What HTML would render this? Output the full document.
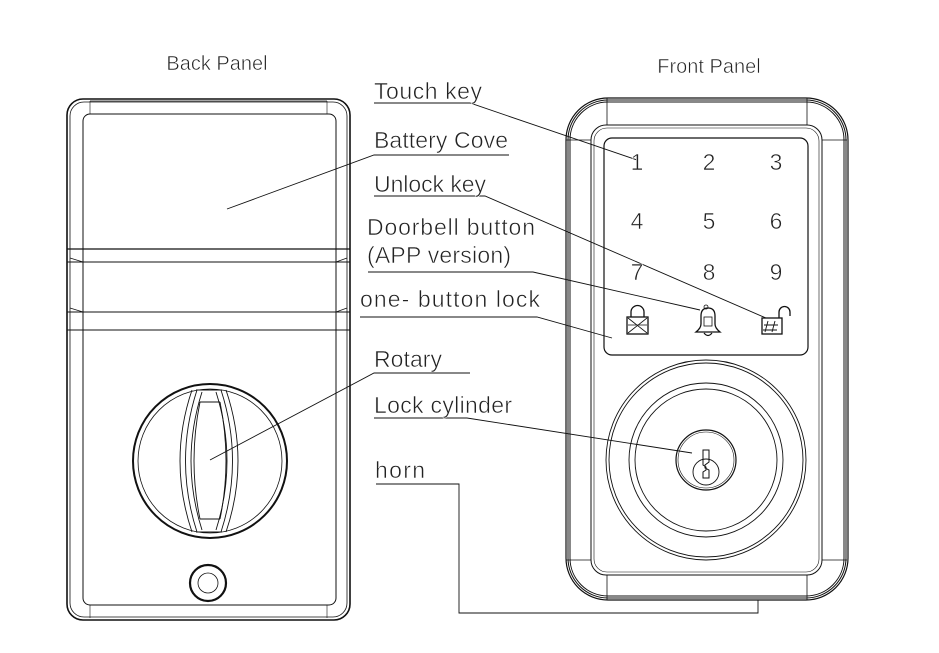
<!DOCTYPE html>
<html><head><meta charset="utf-8"><style>
html,body{margin:0;padding:0;background:#fff;}
svg{display:block;}
text{font-family:"Liberation Sans",sans-serif;fill:#222;}
.thin{stroke:#fff;stroke-width:0.55px;}
</style></head><body>
<svg width="939" height="653" viewBox="0 0 939 653" xmlns="http://www.w3.org/2000/svg">
<g fill="none" stroke="#111">
<!-- BACK PANEL -->
<rect x="67" y="99" width="283" height="521" rx="16" stroke-width="1.6"/>
<rect x="70" y="102" width="277" height="515" rx="14" stroke-width="0.8"/>
<rect x="83" y="114" width="253" height="491" rx="7" stroke-width="1"/>
<line x1="90" y1="101" x2="327" y2="101" stroke-width="0.8"/>
<line x1="90" y1="101" x2="90" y2="114" stroke-width="0.6"/>
<line x1="327" y1="101" x2="327" y2="114" stroke-width="0.6"/>
<line x1="90" y1="605" x2="90" y2="618" stroke-width="0.6"/>
<line x1="327" y1="605" x2="327" y2="618" stroke-width="0.6"/>
<line x1="67" y1="249" x2="350" y2="249" stroke-width="1.2"/>
<line x1="67" y1="262" x2="350" y2="262" stroke-width="1"/>
<line x1="67" y1="312" x2="350" y2="312" stroke-width="1"/>
<line x1="67" y1="330" x2="350" y2="330" stroke-width="1"/>
<path d="M70 258 L83 262 M347 258 L336 262 M70 308 L83 312 M347 308 L336 312" stroke-width="0.7"/>
<!-- knob -->
<circle cx="210" cy="461" r="77" stroke-width="2"/>
<circle cx="210" cy="461" r="72" stroke-width="0.8"/>
<path d="M192 390 Q168 461 192 532 M197 390 Q174 461 197 532 M202 392 Q180 461 202 530" stroke-width="0.9"/>
<path d="M226 390 Q250 461 226 532 M221 390 Q244 461 221 532 M216 392 Q238 461 216 530" stroke-width="0.9"/>
<path d="M196 390 h26 M200 402 h20 M196 532 h26 M200 519 h20" stroke-width="0.9"/>
<path d="M200 402 Q188 461 200 519 M220 402 Q232 461 220 519" stroke-width="0.9"/>
<circle cx="208" cy="583" r="18" stroke-width="2.2"/>
<circle cx="208" cy="583" r="10" stroke-width="0.8"/>

<!-- FRONT PANEL -->
<rect x="566" y="98" width="282" height="502" rx="42" stroke-width="1.2"/>
<rect x="568" y="100" width="278" height="498" rx="40" stroke-width="1"/>
<rect x="570" y="102" width="274" height="494" rx="38" stroke-width="1"/>
<rect x="591" y="125" width="231" height="450" rx="15" stroke-width="1"/>
<rect x="594" y="128" width="225" height="444" rx="13" stroke-width="0.6"/>
<line x1="607" y1="98" x2="607" y2="125" stroke-width="0.8"/>
<line x1="807" y1="98" x2="807" y2="125" stroke-width="0.8"/>
<line x1="607" y1="575" x2="607" y2="600" stroke-width="0.8"/>
<line x1="807" y1="575" x2="807" y2="600" stroke-width="0.8"/>
<line x1="822" y1="140" x2="847" y2="140" stroke-width="0.8"/>
<line x1="566" y1="140" x2="591" y2="140" stroke-width="0.8"/>
<line x1="566" y1="560" x2="591" y2="560" stroke-width="0.8"/>
<line x1="822" y1="560" x2="847" y2="560" stroke-width="0.8"/>
<!-- keypad -->
<rect x="604" y="138" width="204" height="217" rx="8" stroke-width="1.2"/>
<!-- lock icons -->
<rect x="627" y="317" width="21" height="17" stroke-width="1.3"/>
<path d="M631 317 v-5 a6.5 6.5 0 0 1 13 0 v5" stroke-width="1.3"/>
<path d="M628 318 l19 15 M647 318 l-19 15 M628 325 h19" stroke-width="0.8"/>
<path d="M701 316 q0 -8 7 -8 q7 0 7 8 v8 q0 4 5 8 h-24 q5 -4 5 -8z" stroke-width="1.3"/>
<rect x="704" y="317" width="8" height="9" stroke-width="0.8"/>
<path d="M704 333 q4 5 8 0" stroke-width="1.2"/>
<circle cx="706" cy="307" r="2" stroke-width="0.8"/>
<rect x="762" y="318" width="20" height="16" stroke-width="1.3"/>
<path d="M779 318 v-6 a5.5 5.5 0 0 1 11 0 v4" stroke-width="1.3"/>
<path d="M768 321 l-3 11 M775 321 l-3 11 M764 325 h14 M763 330 h14" stroke-width="0.9"/>
<!-- cylinder -->
<circle cx="706" cy="460" r="100" stroke-width="0.9"/>
<circle cx="706" cy="460" r="97" stroke-width="0.9"/>
<circle cx="706" cy="460" r="77" stroke-width="0.9"/>
<circle cx="706" cy="460" r="71" stroke-width="0.9"/>
<circle cx="706" cy="460" r="30" stroke-width="1.2"/>
<circle cx="706" cy="460" r="28" stroke-width="0.6"/>
<circle cx="706" cy="472" r="13" stroke-width="0.9"/>
<path d="M703 450 h6 v12 l-4 3 v3 l4 2 v8 h-6 v-6 l3 -2 v-3 l-3 -2z" stroke-width="1"/>

<!-- leader lines -->
<g stroke-width="0.9">
<polyline points="374,103 470,103 637,160"/>
<polyline points="509,155 374,155 227,209"/>
<polyline points="374,196 485,196 766,318"/>
<polyline points="368,272 533,272 700,310"/>
<polyline points="360,317 537,317 612,338"/>
<polyline points="470,373 374,373 210,460"/>
<polyline points="374,418 467,418 692,453"/>
<polyline points="376,484 459,484 459,613 758,613 758,600"/>
</g>
</g>
<!-- digits -->
<g font-size="23" style="font-family:'DejaVu Sans Mono','Liberation Mono',monospace" fill="#222" text-anchor="middle" class="thin">
<text x="637" y="170" class="thin">1</text><text x="709" y="170" class="thin">2</text><text x="776" y="170" class="thin">3</text>
<text x="637" y="229" class="thin">4</text><text x="709" y="229" class="thin">5</text><text x="776" y="229" class="thin">6</text>
<text x="637" y="280" class="thin">7</text><text x="709" y="280" class="thin">8</text><text x="776" y="280" class="thin">9</text>
</g>
<g font-size="20">
<text x="217" y="70" text-anchor="middle" class="thin">Back Panel</text>
<text x="709" y="73" text-anchor="middle" class="thin">Front Panel</text>
</g>
<g font-size="23">
<text class="thin" x="374" y="99" textLength="108">Touch key</text>
<text class="thin" x="374" y="148" textLength="134">Battery Cove</text>
<text class="thin" x="374" y="192" textLength="112">Unlock key</text>
<text class="thin" x="367" y="235" textLength="168">Doorbell button</text>
<text class="thin" x="367" y="263" textLength="144">(APP version)</text>
<text class="thin" x="360" y="307" textLength="180">one- button lock</text>
<text class="thin" x="374" y="367" textLength="68">Rotary</text>
<text class="thin" x="374" y="413" textLength="138">Lock cylinder</text>
<text class="thin" x="375" y="478" textLength="50">horn</text>
</g>
</svg>
</body></html>
